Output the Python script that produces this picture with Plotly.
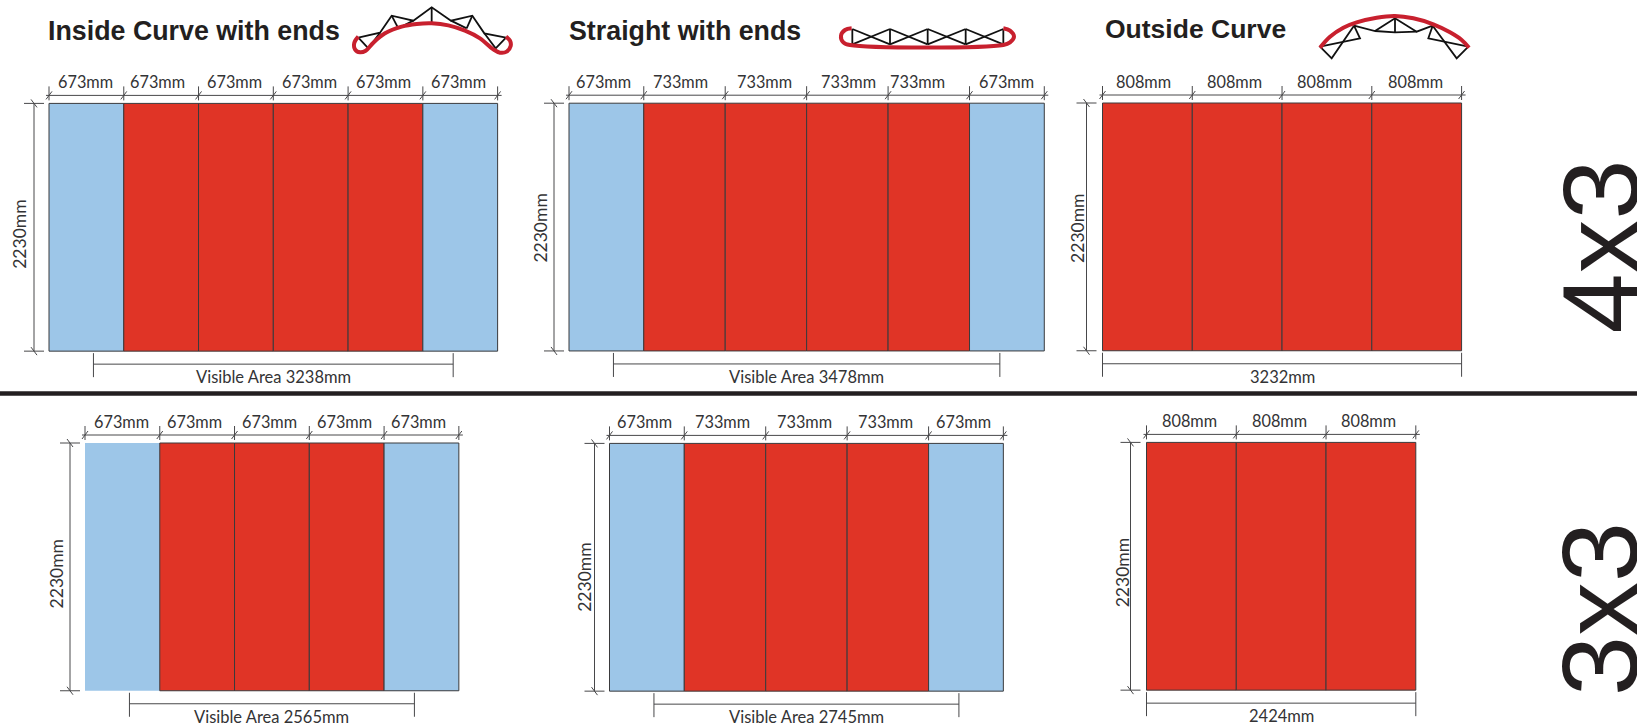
import plotly.graph_objects as go

# ---- data (millimetres) ----
panel_height_mm = 2230
widths_4x3_inside = [673, 673, 673, 673, 673, 673]
widths_4x3_straight = [673, 733, 733, 733, 733, 673]
widths_4x3_outside = [808, 808, 808, 808]
widths_3x3_inside = [673, 673, 673, 673, 673]
widths_3x3_straight = [673, 733, 733, 733, 673]
widths_3x3_outside = [808, 808, 808]
kinds_4x3_inside = ["end", "mid", "mid", "mid", "mid", "end"]
kinds_4x3_straight = ["end", "mid", "mid", "mid", "mid", "end"]
kinds_4x3_outside = ["mid", "mid", "mid", "mid"]
kinds_3x3_inside = ["end", "mid", "mid", "mid", "end"]
kinds_3x3_straight = ["end", "mid", "mid", "mid", "end"]
kinds_3x3_outside = ["mid", "mid", "mid"]
visible_mm = [3238, 3478, 3232, 2565, 2745, 2424]
visible_labels = ["Visible Area 3238mm", "Visible Area 3478mm", "3232mm",
                  "Visible Area 2565mm", "Visible Area 2745mm", "2424mm"]
titles = ["Inside Curve with ends", "Straight with ends", "Outside Curve"]
size_labels = ["4x3", "3x3"]

# ---- truss icon outlines, px from the icon's own corner ----
icon1_red = [(40,110),(28,128),(30,148),(45,157),(62,152),(85,128),(120,100),(170,80),(215,72),(260,70),(310,76),(360,92),(405,115),(445,148),(465,158),(485,155),(497,138),(495,122),(483,110)]
icon1_black = [
    [(40,113),(105,98),(140,47),(205,62),(260,22),(318,62),(382,47),(418,100),(483,113)],
    [(40,113),(70,145),(105,98)], [(140,47),(160,85)], [(260,22),(260,70)], [(382,47),(365,85)],
    [(483,113),(452,145),(418,100)], [(205,62),(160,85)], [(318,62),(365,85)]]
icon2_red = [(65,40),(45,45),(33,62),(40,82),(60,90),(520,90),(540,82),(552,65),(540,47),(520,40)]
icon2_black = [
    [(67,42),(67,88)], [(180,42),(180,88)], [(293,42),(293,88)], [(407,42),(407,88)], [(520,42),(520,88)],
    [(67,42),(180,88)], [(67,88),(180,42)], [(180,42),(293,88)], [(180,88),(293,42)],
    [(293,42),(407,88)], [(293,88),(407,42)], [(407,42),(520,88)], [(407,88),(520,42)]]
icon3_red = [(30,128),(60,95),(100,68),(140,52),(200,38),(255,33),(310,40),(370,58),(420,82),(455,105),(477,128)]
icon3_black = [
    [(30,125),(150,100),(132,62),(195,78),(255,40),(320,80),(368,62),(355,100),(475,125)],
    [(30,125),(65,160),(132,62)], [(475,125),(440,160),(368,62)],
    [(195,78),(255,82),(320,80)], [(255,40),(255,82)]]

# ---- layout ----
W, H = 1637, 728
S = 0.1111  # px per mm
RED, BLUE, INK, TXT, LOOP = "#E03426", "#9DC6E8", "#3a3a3c", "#333335", "#C8202E"
COLORS = {"end": BLUE, "mid": RED}

panels = [
    dict(w=widths_4x3_inside, k=kinds_4x3_inside, ox=49, oy=103.4, dim=15, lab=29, vs=7.5, sh=[-1,-3.5,-1,-1,-2,-2]),
    dict(w=widths_4x3_straight, k=kinds_4x3_straight, ox=569, oy=103.2, dim=15, lab=28.5, vs=1, sh=[-2.5,-3.5,-1,1.4,-11,0]),
    dict(w=widths_4x3_outside, k=kinds_4x3_outside, ox=1102.5, oy=103, dim=16, lab=24.5, vs=2, sh=[-3.5,-2.5,-2,-1.4]),
    dict(w=widths_3x3_inside, k=kinds_3x3_inside, ox=85, oy=443, dim=15, lab=28.5, vs=7, sh=[-1,-3,-2,-2,-3]),
    dict(w=widths_3x3_straight, k=kinds_3x3_straight, ox=609.5, oy=443.4, dim=15, lab=24.5, vs=10.5, sh=[-2,-2,-2,-2,-2]),
    dict(w=widths_3x3_outside, k=kinds_3x3_outside, ox=1146.5, oy=442.4, dim=16, lab=24.5, vs=7, sh=[-2,-2,-2]),
]

def mm(p):
    return p / S

fig = go.Figure()
annotations = []

def label(px, py, text, size=16.3, angle=0, family="Lato", color=TXT, anchor="center", weight="normal"):
    annotations.append(dict(x=mm(px), y=mm(py), xref="x", yref="y", text=text, showarrow=False,
                            textangle=angle, xanchor=anchor, yanchor="middle", borderpad=0,
                            font=dict(family=family, size=size, color=color, weight=weight)))

for i, p in enumerate(panels):
    ox, oy = p["ox"], p["oy"]
    widths = p["w"]
    edges = [mm(ox)]
    for w in widths:
        edges.append(edges[-1] + w)
    centers = [(edges[j] + edges[j + 1]) / 2 for j in range(len(widths))]
    colors = [COLORS[k] for k in p["k"]]
    lw = [1] * len(widths)
    if i == 3:
        lw[0] = 0
    fig.add_trace(go.Bar(x=centers, y=[panel_height_mm] * len(widths), width=widths, base=mm(oy),
                         marker=dict(color=colors, line=dict(color=INK, width=lw)),
                         hoverinfo="skip", showlegend=False))
    bottom = mm(oy) + panel_height_mm

    # dimension lines
    xs, ys = [], []
    def seg(x0, y0, x1, y1):
        xs.extend([x0, x1, None])
        ys.extend([y0, y1, None])
    dim_y = mm(oy - 8)
    seg(edges[0] - mm(3), dim_y, edges[-1] + mm(4), dim_y)
    for e in edges:
        seg(e, dim_y - mm(9), e, dim_y + mm(5))
        seg(e - mm(3), dim_y + mm(4), e + mm(3), dim_y - mm(4))
    dim_x = mm(ox - p["dim"])
    seg(dim_x, mm(oy), dim_x, bottom)
    for yy in (mm(oy), bottom):
        seg(dim_x - mm(10), yy, dim_x + mm(10), yy)
        seg(dim_x - mm(3), yy - mm(4), dim_x + mm(3), yy + mm(4))
    # visible-area bracket
    total = sum(widths)
    vx0 = edges[0] + (total - visible_mm[i]) / 2
    vx1 = vx0 + visible_mm[i]
    seg(vx0, bottom + mm(2), vx0, bottom + mm(26))
    seg(vx1, bottom + mm(2), vx1, bottom + mm(26))
    seg(vx0, bottom + mm(13), vx1, bottom + mm(13))
    fig.add_trace(go.Scatter(x=xs, y=ys, mode="lines", line=dict(color="#48484a", width=1),
                             hoverinfo="skip", showlegend=False))

    for c, w, s in zip(centers, widths, p["sh"]):
        label(c * S + s, oy - 22, f"{w}mm")
    label(ox - p["lab"], oy + panel_height_mm * S / 2 + p["vs"], f"{panel_height_mm}mm", size=17.5, angle=-90)
    label((vx0 + vx1) / 2 * S, bottom * S + 26, visible_labels[i], size=16.5)

# divider
fig.add_trace(go.Scatter(x=[0, mm(W)], y=[mm(393.6)] * 2, mode="lines",
                         line=dict(color="#231F20", width=4.5), hoverinfo="skip", showlegend=False))

# icons
def icon(red, blacks, ox, oy):
    for poly in blacks:
        fig.add_trace(go.Scatter(x=[mm(ox + a / 3) for a, _ in poly], y=[mm(oy + b / 3) for _, b in poly],
                                 mode="lines", line=dict(color="#111111", width=1.8),
                                 hoverinfo="skip", showlegend=False))
    fig.add_trace(go.Scatter(x=[mm(ox + a / 3) for a, _ in red], y=[mm(oy + b / 3) for _, b in red],
                             mode="lines", line=dict(color=LOOP, width=4, shape="spline"),
                             hoverinfo="skip", showlegend=False))

icon(icon1_red, icon1_black, 345, 0)
icon(icon2_red, icon2_black, 830, 15)
icon(icon3_red, icon3_black, 1310, 5)

# titles and size marks
for t, px, py, fs in zip(titles, [47, 568, 1103.5], [31, 31, 29], [26.8, 26.8, 26.5]):
    label(px, py, t, size=fs, family="Liberation Sans", color="#231F20", anchor="left", weight="bold")
for t, py in zip(size_labels, [247, 609.5]):
    label(1538, py, t, size=108, angle=-90, family="Liberation Sans", color="#231F20", anchor="left")

fig.update_layout(
    width=W, height=H, margin=dict(l=0, r=0, t=0, b=0), autosize=False,
    paper_bgcolor="white", plot_bgcolor="white", barmode="overlay", showlegend=False,
    xaxis=dict(range=[0, mm(W)], visible=False, fixedrange=True),
    yaxis=dict(range=[mm(H), 0], visible=False, fixedrange=True),
    annotations=annotations,
)
fig.write_html("out.html", config=dict(displayModeBar=False),
               post_script="document.body.style.margin='0';document.body.style.overflow='hidden';")
